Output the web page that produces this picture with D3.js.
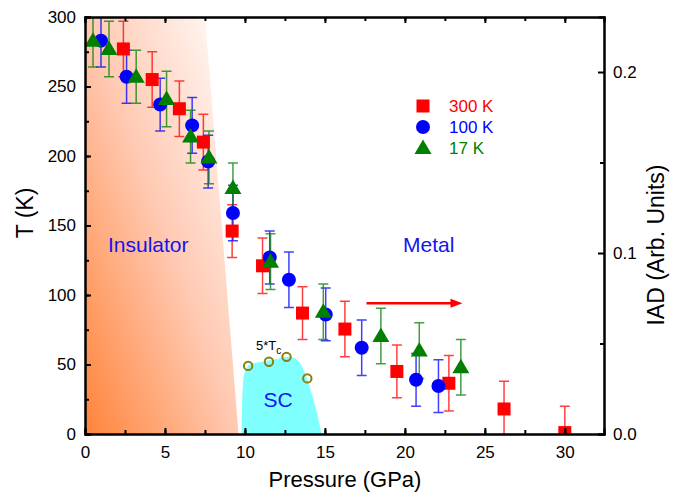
<!DOCTYPE html>
<html>
<head>
<meta charset="utf-8">
<script src="https://cdn.jsdelivr.net/npm/d3@7"></script>
<style>
    body { margin: 0; background: #fff; }
    svg { font-family: 'Liberation Sans', Arial, sans-serif; }
</style>
</head>
<body>
<svg id="chart" width="681" height="497"></svg>
<script>
// 300 K
var p300 = [2.4, 4.2, 5.9, 7.4, 9.2, 11.1, 13.6, 16.25, 19.5, 22.75, 26.2, 30.0];
var t300 = [277, 255, 234, 210, 146, 121, 87, 75.5, 45, 36.5, 18, 1];
var e300 = [20, 20, 20, 20, 19, 20, 19, 20, 19, 20, 20, 19];
// 100 K
var p100 = [1.0, 2.6, 4.7, 6.7, 7.7, 9.25, 11.55, 12.75, 15.05, 17.3, 20.7, 22.1];
var t100 = [283, 257, 237, 222, 196, 159, 127, 111, 86, 62, 39, 34.5];
var e100 = [19, 19, 19, 20, 19, 20, 19, 20, 19, 20, 19, 19];
// 17 K
var p17 = [0.5, 1.5, 3.2, 5.1, 6.6, 7.75, 9.25, 11.6, 14.9, 18.5, 20.9, 23.5];
var t17 = [283, 277, 257, 241, 214, 199, 177, 124, 88, 70.5, 60, 48];
var e17 = [19, 20, 19, 20, 19, 19, 18, 20, 20, 20, 20, 20];

// superconducting dome + 5*Tc points
var scP = [9.8, 9.85, 10.0, 10.3, 11.1, 12.0, 12.7, 13.2, 13.6, 14.0, 14.4, 14.8];
var scT = [0, 30, 45, 50, 52, 54, 55.5, 54, 48, 35, 20, 0];
var tcP = [10.2, 11.5, 12.6, 13.9];
var tcT = [49, 52, 55.5, 40];

// insulator boundary (pressure at T = 300 and T = 0)
var insTopP = 7.5;
var insBottomP = 9.6;

var xTicks = [0, 5, 10, 15, 20, 25, 30];
var yTicks = [0, 50, 100, 150, 200, 250, 300];
var iadTicks = [0, 0.1, 0.2];

var series = [
    { name: '300 K', p: p300, t: t300, e: e300, color: '#ff0000', shape: 'square' },
    { name: '100 K', p: p100, t: t100, e: e100, color: '#0000ff', shape: 'circle' },
    { name: '17 K', p: p17, t: t17, e: e17, color: '#007f00', shape: 'triangle' }
];

var plotLeft = 85, plotRight = 604, plotTop = 17, plotBottom = 434;

var x = d3.scaleLinear().domain([0, 32.45]).range([plotLeft, plotRight]);
var y = d3.scaleLinear().domain([0, 300]).range([plotBottom, plotTop]);
var yR = d3.scaleLinear().domain([0, 0.2304]).range([plotBottom, plotTop]);

var svg = d3.select('#chart');

var defs = svg.append('defs');
defs.append('clipPath').attr('id', 'plot-clip')
    .append('rect')
    .attr('x', plotLeft).attr('y', plotTop)
    .attr('width', plotRight - plotLeft).attr('height', plotBottom - plotTop);

var grad = defs.append('linearGradient')
    .attr('id', 'ins-grad')
    .attr('x1', 0).attr('y1', 1).attr('x2', 1).attr('y2', 0);
grad.append('stop').attr('offset', 0).attr('stop-color', '#ff843a');
grad.append('stop').attr('offset', 0.5).attr('stop-color', '#ffc9b2');
grad.append('stop').attr('offset', 1).attr('stop-color', '#ffffff');

var plot = svg.append('g').attr('clip-path', 'url(#plot-clip)');

// insulator region
plot.append('path')
    .attr('d', 'M' + x(0) + ',' + y(300) +
        'L' + x(insTopP) + ',' + y(300) +
        'L' + x(insBottomP) + ',' + y(0) +
        'L' + x(0) + ',' + y(0) + 'Z')
    .attr('fill', 'url(#ins-grad)');

// SC dome
var scLine = d3.line()
    .x(function(d) { return x(d[0]); })
    .y(function(d) { return y(d[1]); })
    .curve(d3.curveCatmullRom);
plot.append('path')
    .attr('d', scLine(d3.zip(scP, scT)) + 'Z')
    .attr('fill', '#80ffff');

plot.selectAll('circle.tc')
    .data(d3.zip(tcP, tcT))
    .join('circle')
    .classed('tc', true)
    .attr('cx', function(d) { return x(d[0]); })
    .attr('cy', function(d) { return y(d[1]); })
    .attr('r', 4.2)
    .attr('fill', 'none')
    .attr('stroke', '#8a7f0a')
    .attr('stroke-width', 2);

var tcLabel = svg.append('text')
    .attr('x', 256).attr('y', 350)
    .attr('font-size', 13).attr('fill', '#000');
tcLabel.append('tspan').text('5*T');
tcLabel.append('tspan').attr('font-size', 10).attr('dy', 4).text('c');

// region labels
svg.append('text').attr('x', 108).attr('y', 252)
    .attr('font-size', 21).attr('fill', '#1414ee').text('Insulator');
svg.append('text').attr('x', 403).attr('y', 252)
    .attr('font-size', 21).attr('fill', '#1414ee').text('Metal');
svg.append('text').attr('x', 278).attr('y', 407)
    .attr('text-anchor', 'middle')
    .attr('font-size', 21).attr('fill', '#1414ee').text('SC');

// arrow
var arrowT = 94;
svg.append('line')
    .attr('x1', x(17.6)).attr('y1', y(arrowT))
    .attr('x2', x(22.9)).attr('y2', y(arrowT))
    .attr('stroke', '#ff0000').attr('stroke-width', 2.5);
svg.append('path')
    .attr('d', 'M' + x(23.6) + ',' + y(arrowT) +
        'l-12,-4.5 l0,9 Z')
    .attr('fill', '#ff0000');

// markers
function drawMarker(sel, shape, color) {
    if (shape === 'square') {
        sel.append('rect')
            .attr('x', -6.5).attr('y', -6.5)
            .attr('width', 13).attr('height', 13)
            .attr('fill', color);
    } else if (shape === 'circle') {
        sel.append('circle').attr('r', 7).attr('fill', color);
    } else {
        sel.append('path')
            .attr('d', 'M0,-8.5 L8.5,6 L-8.5,6 Z')
            .attr('fill', color);
    }
}

var errG = plot.append('g');
series.forEach(function(s) {
    var pts = d3.zip(s.p, s.t, s.e);
    var g = errG.append('g')
        .attr('stroke', s.color)
        .attr('stroke-width', 1.5)
        .attr('stroke-opacity', 0.75)
        .attr('fill', 'none');
    g.selectAll('path')
        .data(pts)
        .join('path')
        .attr('d', function(d) {
            var cx = x(d[0]), y1 = y(d[1] + d[2]), y2 = y(d[1] - d[2]);
            return 'M' + cx + ',' + y1 + 'V' + y2 +
                'M' + (cx - 5) + ',' + y1 + 'H' + (cx + 5) +
                'M' + (cx - 5) + ',' + y2 + 'H' + (cx + 5);
        });
});

series.forEach(function(s) {
    plot.append('g').selectAll('g')
        .data(d3.zip(s.p, s.t))
        .join('g')
        .attr('transform', function(d) {
            return 'translate(' + x(d[0]) + ',' + y(d[1]) + ')';
        })
        .each(function() { drawMarker(d3.select(this), s.shape, s.color); });
});

// legend
series.forEach(function(s, i) {
    var ly = 106 + i * 21;
    var g = svg.append('g').attr('transform', 'translate(423,' + ly + ')');
    drawMarker(g, s.shape, s.color);
    svg.append('text')
        .attr('x', 449).attr('y', ly + 6)
        .attr('font-size', 17).attr('fill', s.color)
        .text(s.name);
});

// axes
function minorTicks(step, max) {
    return d3.range(0, max + 1e-9, step);
}

svg.append('g').attr('transform', 'translate(0,' + plotBottom + ')')
    .call(d3.axisBottom(x).tickValues(xTicks).tickSize(-6).tickPadding(12)
        .tickFormat(d3.format('d')));
svg.append('g').attr('transform', 'translate(0,' + plotBottom + ')')
    .call(d3.axisBottom(x).tickValues(minorTicks(2.5, 32.4)).tickSize(-4).tickFormat(''));
svg.append('g').attr('transform', 'translate(0,' + plotTop + ')')
    .call(d3.axisTop(x).tickValues(xTicks).tickSize(-6).tickFormat(''));
svg.append('g').attr('transform', 'translate(0,' + plotTop + ')')
    .call(d3.axisTop(x).tickValues(minorTicks(2.5, 32.4)).tickSize(-4).tickFormat(''));

svg.append('g').attr('transform', 'translate(' + plotLeft + ',0)')
    .call(d3.axisLeft(y).tickValues(yTicks).tickSize(-6).tickPadding(9)
        .tickFormat(d3.format('d')));
svg.append('g').attr('transform', 'translate(' + plotLeft + ',0)')
    .call(d3.axisLeft(y).tickValues(minorTicks(25, 300)).tickSize(-4).tickFormat(''));

svg.append('g').attr('transform', 'translate(' + plotRight + ',0)')
    .call(d3.axisRight(yR).tickValues(iadTicks).tickSize(-6).tickPadding(9)
        .tickFormat(d3.format('.1f')));
svg.append('g').attr('transform', 'translate(' + plotRight + ',0)')
    .call(d3.axisRight(yR).tickValues([0.05, 0.15]).tickSize(-4).tickFormat(''));

svg.selectAll('.domain').attr('stroke', '#000').attr('stroke-width', 2);
svg.selectAll('.tick line').attr('stroke', '#000').attr('stroke-width', 2);
svg.selectAll('.tick text').attr('font-size', 17).attr('fill', '#000')
    .attr('font-family', "'Liberation Sans', Arial, sans-serif");

// axis titles
svg.append('text')
    .attr('x', 345).attr('y', 487)
    .attr('text-anchor', 'middle')
    .attr('font-size', 22).text('Pressure (GPa)');
svg.append('text')
    .attr('transform', 'translate(33,213) rotate(-90)')
    .attr('text-anchor', 'middle')
    .attr('font-size', 23).text('T (K)');
svg.append('text')
    .attr('transform', 'translate(664,245) rotate(-90)')
    .attr('text-anchor', 'middle')
    .attr('font-size', 23).text('IAD (Arb. Units)');
</script>
</body>
</html>
